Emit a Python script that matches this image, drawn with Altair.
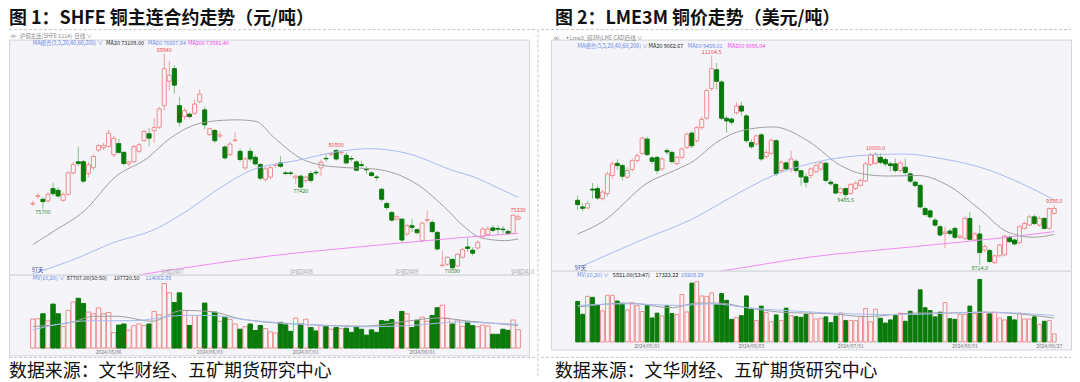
import altair as alt
import pandas as pd

FONT = "Noto Sans CJK SC"
BG = "#f4f4f9"
UP = "#ef8e8e"
UP_WICK = "#f2a0a0"
DOWN = "#0a7a0a"
DOWN_WICK = "#86c286"
GRID = "#e2e2ea"
AXIS_C = "#c4c4cc"
RED_T = "#f04848"
GREEN_T = "#2e8b2e"
BLUE_T = "#6a8ae4"
MAG_T = "#ee44ee"
MA20_C = "#a0a0a0"
MA60_C = "#a9bbf0"
MA200_C = "#f08cf0"
FRAME_C = "#c4c4c4"

# ================= 图1: SHFE 铜主连 (元/吨) =================
shfe_open = [76080, 76750, 76500, 76360, 77400, 77260, 76410, 76920, 78750, 79700,
             79700, 78700, 79200, 80700, 80900, 81020, 80300, 81250, 80500, 79520,
             79700, 80600, 81500, 82090, 82350, 82650, 84490, 86580, 87650, 84490,
             83560, 83760, 83840, 84830, 84130, 82010, 82370, 81900, 80960, 80310,
             81500, 80590, 79180, 80590, 80080, 79470, 78200, 78400, 79380, 79600,
             78750, 78750, 78330, 78470, 78110, 78700, 78800, 79180, 79990, 80330,
             80650, 80480, 80250, 79980, 79690, 79450, 79060, 78750, 78400, 77350,
             76130, 75360, 74800, 74800, 73530, 74240, 73900, 72960, 74700, 74520,
             73670, 70820, 70950, 71360, 70800, 71550, 72430, 72150, 72340, 73310,
             73500, 74050, 74000, 73950, 73750, 73580, 74800]
shfe_high = [76360, 77050, 76650, 77100, 77900, 77500, 77100, 78900, 79700, 81000,
             79850, 79700, 80300, 81200, 81300, 82430, 81900, 81640, 80600, 79800,
             81150, 81300, 82430, 82570, 83410, 84400, 88940, 88300, 87940, 85250,
             84300, 83900, 85000, 85870, 84400, 82600, 82500, 82300, 81100, 81400,
             82200, 80800, 80100, 80900, 80300, 79600, 79300, 79400, 79600, 80170,
             78900, 78900, 78600, 78600, 78500, 78900, 79000, 79900, 80300, 80500,
             80800, 80650, 80500, 80200, 79800, 79800, 79300, 78900, 78550, 77500,
             76300, 75500, 75100, 74900, 74400, 74800, 74000, 74600, 75510, 74700,
             73800, 72100, 71600, 71500, 71900, 72350, 73220, 72400, 73000, 74100,
             74200, 74300, 74300, 74200, 73900, 75200, 75230]
shfe_low = [75930, 76500, 75700, 76200, 76800, 76600, 76300, 76800, 78600, 79300,
            77900, 78400, 79000, 80550, 80700, 80900, 80100, 80400, 79400, 79300,
            79600, 80450, 81400, 81020, 81300, 82500, 84100, 85800, 85530, 82710,
            83300, 83400, 83700, 84700, 82500, 81900, 81300, 81700, 79900, 80200,
            81400, 79700, 79000, 79700, 79400, 78100, 78000, 78200, 79200, 79180,
            78550, 78500, 77800, 77420, 77900, 77900, 78600, 78500, 79700, 80150,
            79800, 80300, 79500, 79700, 78900, 79200, 78700, 78400, 78100, 76300,
            75600, 74600, 74700, 72850, 73400, 73700, 73500, 72800, 74500, 73600,
            72100, 70750, 70800, 70590, 70700, 71400, 72000, 71700, 72200, 73200,
            73400, 73700, 73500, 73600, 73450, 73500, 74700]
shfe_close = [76150, 76800, 76300, 76920, 76980, 76780, 76920, 78750, 79470, 79550,
              78050, 79450, 80150, 81080, 81100, 82140, 81700, 80500, 79550, 79690,
              81000, 81150, 82290, 81720, 82630, 84210, 87650, 87090, 86240, 83080,
              84070, 83560, 84630, 85480, 82860, 82520, 81500, 81980, 80030, 81210,
              81560, 79890, 79940, 79940, 79520, 78300, 79100, 79200, 79420, 79320,
              78700, 78700, 78470, 77540, 78390, 78110, 78750, 79660, 79950, 80380,
              79940, 80520, 79600, 79930, 78980, 79380, 79020, 78530, 78350, 76500,
              75790, 74720, 75000, 73020, 74240, 74100, 73650, 74460, 74760, 73750,
              72260, 70880, 71550, 70650, 71800, 72200, 72300, 71900, 72820, 73960,
              73960, 73850, 73950, 73900, 73580, 75140, 75000]
# 成交量 (万手)
shfe_vol = [13.9, 14, 16.4, 13, 21, 16.4, 10.3, 18, 22, 23.8,
            21.3, 17.2, 16.4, 19.2, 16.4, 17, 7.4, 11, 11.5, 8.5,
            10.7, 11.5, 10.7, 11.5, 17.5, 15.9, 30.8, 26.4, 21.8, 26.4,
            18, 10.8, 15.6, 15.6, 21.5, 17.5, 17.2, 12.8, 14.8, 13.6,
            11.5, 9, 10.2, 11.5, 8.4, 10.8, 9.3, 7.7, 7.2, 12.3,
            11.1, 8, 14.3, 11.5, 13.8, 9.8, 8.2, 10.7, 10.2, 9,
            9.8, 9.3, 9.5, 7.5, 10.2, 9, 6.2, 8.7, 7.5, 13.1,
            12.8, 13.6, 11.6, 17.5, 16.4, 9.8, 13.3, 14.8, 12.8, 15.6,
            19.3, 20.5, 14.3, 11.5, 13.4, 10.3, 12.5, 10.7, 10.2, 11,
            10.5, 6.6, 6.6, 9, 8.5, 13.4, 8.77]
shfe_ma20_i = [0, 4.3, 10.2, 16.3, 22.6, 27.2, 31.2, 35.1, 40.3, 44.2, 47.5, 53.4,
               57.3, 62, 67.2, 73.7, 77, 81.5, 85.5, 88.1, 90.7, 93.3, 96]
shfe_ma20_v = [72630, 73810, 75510, 78400, 80000, 81720, 82710, 83140, 83280, 83140, 81850, 79900,
               79400, 79200, 79100, 78330, 77480, 75790, 74100, 73300, 73050, 72970, 73109]
shfe_ma60_i = [0, 7.6, 16.1, 24, 30.5, 37.1, 43.6, 47.5, 51.5, 60.7, 66.6, 73.7, 83.5, 86.8, 93.3, 96]
shfe_ma60_v = [70140, 71270, 72820, 73900, 75510, 77480, 79040, 79470, 79750, 80590, 80820,
               80450, 78900, 78470, 77200, 76668]
shfe_ma200_i = [21, 23.3, 47.5, 67.2, 86.8, 96]
shfe_ma200_v = [70050, 70200, 71690, 72540, 73300, 73591]
shfe_mv10_i = [0, 8, 12, 16.8, 23.5, 29.6, 35, 41.8, 55.3, 65.5, 72.3, 80.4, 85.8, 92.6, 96]
shfe_mv10_v = [10.3, 12.5, 15.2, 15.2, 12.8, 18.0, 17.5, 13.6, 11.1, 10.5, 12.3, 14.4, 13.0, 11.5, 10.77]
shfe_mv20_i = [0, 11, 20, 29.6, 35, 41.8, 55.3, 65.5, 76, 84, 90, 96]
shfe_mv20_v = [8.7, 13.0, 13.1, 15.6, 15.6, 13.6, 11.1, 10.2, 11.0, 12.5, 12.0, 11.41]
shfe_hi_lab = [("88940", 26, 88940), ("80800", 60, 80800), ("75230", 96, 75230)]
shfe_lo_lab = [("75700", 2, 75700), ("77420", 53, 77420), ("70590", 83, 70590)]
shfe_date_i = [15, 35, 54, 77]
shfe_date_lab = ["2024/05/06", "2024/06/03", "2024/07/01", "2024/08/01"]
shfe_roll_lab = ["沪铜2407", "沪铜2408", "沪铜2409", "沪铜2410"]
shfe_roll_i = [25.3, 50.8, 71.7, 94.6]

# ================= 图2: LME3M 铜 (美元/吨) =================
lme_open = [9453, 9377, 9366, 9580, 9586, 9472, 9529, 9736, 9875, 9849,
            9717, 9806, 9906, 9989, 10152, 9937, 9943, 9812, 10020, 10000,
            9870, 9943, 10057, 10220, 10133, 10283, 10390, 10729, 10944, 10804,
            10390, 10380, 10453, 10529, 10416, 10113, 10095, 10200, 9951, 9989,
            10133, 9793, 9880, 9812, 9898, 9790, 9720, 9736, 9780, 9810,
            9876, 9660, 9634, 9540, 9586, 9530, 9586, 9623, 9672, 9861,
            9875, 9943, 9917, 9869, 9869, 9793, 9830, 9755, 9660, 9623,
            9358, 9332, 9226, 9151, 9075, 9102, 9132, 9030, 9019, 9246,
            9000, 9068, 8887, 8879, 8743, 8819, 8830, 9031, 9000, 8969,
            9132, 9170, 9264, 9170, 9246, 9132, 9302]
lme_high = [9510, 9420, 9440, 9650, 9620, 9570, 9780, 9900, 9920, 9870,
            9830, 9930, 9990, 10180, 10180, 9960, 9960, 9950, 10050, 10020,
            9960, 10060, 10230, 10240, 10300, 10410, 10730, 11104.5, 11020, 10830,
            10420, 10400, 10570, 10580, 10440, 10150, 10200, 10220, 10030, 10160,
            10150, 9910, 9900, 10020, 9920, 9800, 9760, 9830, 9880, 9900,
            9890, 9690, 9650, 9600, 9600, 9650, 9670, 9700, 9890, 9990,
            10000, 9990, 9940, 9890, 9929, 9900, 9929, 9770, 9680, 9640,
            9380, 9350, 9250, 9170, 9151, 9130, 9150, 9060, 9270, 9320,
            9090, 9170, 8950, 8900, 8830, 8960, 9060, 9050, 9020, 9170,
            9210, 9290, 9290, 9270, 9260, 9370, 9398]
lme_low = [9340, 9330, 9350, 9470, 9460, 9450, 9500, 9700, 9800, 9680,
           9700, 9780, 9880, 9970, 9960, 9870, 9750, 9790, 9970, 9870,
           9850, 9920, 10040, 10050, 10110, 10260, 10370, 10700, 10718, 10370,
           10226, 10320, 10430, 10420, 10110, 10040, 10080, 9900, 9930, 9970,
           9730, 9770, 9790, 9770, 9770, 9620, 9600, 9700, 9760, 9790,
           9660, 9620, 9520, 9520, 9485.5, 9515, 9570, 9610, 9660, 9850,
           9860, 9860, 9840, 9780, 9770, 9770, 9740, 9650, 9600, 9360,
           9270, 9240, 9150, 9040, 8906, 9050, 9010, 9010, 9000, 8990,
           8980, 8714, 8860, 8740, 8725, 8810, 8815, 8965, 8940, 8950,
           9120, 9160, 9170, 9150, 9120, 9120, 9290]
lme_close = [9404, 9362, 9416, 9570, 9479, 9547, 9755, 9869, 9850, 9728,
             9793, 9906, 9963, 10163, 9974, 9898, 9793, 9925, 10005, 9895,
             9943, 10039, 10208, 10076, 10283, 10378, 10707, 10956, 10812, 10390,
             10359, 10345, 10529, 10472, 10133, 10065, 10189, 9925, 10000, 10140,
             9755, 9887, 9812, 9925, 9793, 9720, 9660, 9812, 9850, 9880,
             9680, 9642, 9536, 9586, 9518, 9634, 9649, 9680, 9869, 9974,
             9981, 9887, 9869, 9849, 9793, 9880, 9770, 9672, 9623, 9377,
             9291, 9264, 9170, 9057, 9090, 9075, 9031, 9045, 9246, 9008,
             9068, 8856, 8924, 8754, 8819, 8943, 9046, 8981, 8955, 9151,
             9189, 9264, 9189, 9246, 9132, 9359, 9359]
lme_vol = [29450, 20100, 33100, 32400, 27200, 22600, 33900, 33900, 29700, 28000,
           23300, 28500, 26500, 22100, 26500, 17400, 20900, 18900, 26300, 20600,
           19900, 34400, 21800, 42700, 43700, 33400, 33100, 35600, 27000, 35100,
           30200, 16400, 17700, 19100, 33400, 23600, 15500, 26000, 21300, 14700,
           19600, 15500, 24500, 19100, 18400, 17900, 20100, 20600, 16700, 17200,
           18200, 14000, 18700, 21100, 15500, 15500, 15500, 18400, 24300, 14700,
           23800, 17200, 13700, 16000, 19100, 20900, 15000, 22300, 19600, 37800,
           24800, 22800, 18200, 21600, 28700, 16900, 16400, 20100, 20100, 26000,
           20600, 45400, 21600, 20400, 21600, 17400, 16000, 18400, 16000, 20900,
           16700, 16700, 18200, 12800, 15000, 15500, 5821]
lme_ma20_i = [0, 5, 14.3, 19.5, 23.5, 27.5, 33.5, 39.4, 46.7, 53, 57.3, 62.6, 68.6, 74.6,
              81.2, 86.5, 91.8, 96]
lme_ma20_v = [9068, 9207, 9660, 9793, 9906, 10095, 10254, 10291, 10120, 9850, 9755, 9730, 9736,
              9623, 9340, 9094, 9031, 9063]
lme_ma60_i = [0, 12.9, 22.9, 32.8, 39.4, 46.7, 56.7, 66, 73.2, 83.1, 86.5, 96]
lme_ma60_v = [8680, 9000, 9234, 9547, 9736, 9870, 9963, 9981, 9930, 9793, 9717, 9459]
lme_ma200_i = [26, 28.2, 46.7, 66.6, 86.5, 96]
lme_ma200_v = [8625, 8641, 8804, 8917, 9031, 9095]
lme_mv10_i = [0, 10.2, 19.1, 23.9, 28.7, 34.2, 41, 51.2, 58, 68.3, 75.1, 80.6, 88.8, 96]
lme_mv10_v = [25300, 28200, 24800, 28200, 28200, 24800, 21600, 20400, 18400, 21000, 21000,
              21600, 20400, 17323]
lme_mv20_i = [0, 10.2, 20.5, 27.3, 34.2, 44.4, 54.6, 64.9, 75.1, 81.9, 96]
lme_mv20_v = [26500, 27700, 26500, 27700, 24800, 22300, 20400, 19900, 20900, 21600, 19208]
lme_hi_lab = [("11104.5", 27, 11104.5), ("10000.0", 60, 10000), ("9398.0", 96, 9398)]
lme_lo_lab = [("9485.5", 54, 9485.5), ("8714.0", 81, 8714)]
lme_date_i = [14, 35, 55, 78, 95]
lme_date_lab = ["2024/05/01", "2024/06/03", "2024/07/01", "2024/08/01", "2024/08/27"]


def ohlc_df(o, h, l, c, v):
    d = pd.DataFrame({"i": list(range(len(o))), "open": o, "high": h,
                      "low": l, "close": c, "vol": v})
    d["dir"] = ["up" if cc >= oo else "down" for oo, cc in zip(o, c)]
    return d


def text_layers(items, xs, ys, size, align="left", baseline="middle", dy=0):
    out = []
    cols = []
    for it in items:
        if it[3] not in cols:
            cols.append(it[3])
    for col in cols:
        d = pd.DataFrame([{"t": t, "x": x, "y": y} for (t, x, y, cc) in items if cc == col])
        out.append(alt.Chart(d).mark_text(align=align, baseline=baseline, dy=dy, fontSize=size,
                                          font=FONT, color=col).encode(
            x=alt.X("x:Q", scale=xs, axis=None),
            y=alt.Y("y:Q", scale=ys, axis=None),
            text="t:N"))
    return out


def line_layer(ix, vals, color, xs, ys):
    d = pd.DataFrame({"i": ix, "v": vals})
    return alt.Chart(d).mark_line(color=color, strokeWidth=1, interpolate="monotone",
                                  clip=True).encode(
        x=alt.X("i:Q", scale=xs, axis=None),
        y=alt.Y("v:Q", scale=ys, axis=None))


def frame_rule(seg, xs, ys):
    # seg = (x_start, x_end, y_start, y_end) in the panel's own data units
    d = pd.DataFrame([{"x": seg[0], "x2": seg[1], "y": seg[2], "y2": seg[3]}])
    return alt.Chart(d).mark_rule(color=FRAME_C, strokeWidth=1, strokeDash=[3, 2]).encode(
        x=alt.X("x:Q", scale=xs, axis=None), x2="x2:Q",
        y=alt.Y("y:Q", scale=ys, axis=None), y2="y2:Q")


def panel(df, xdom, pdom, vdom, pw, ph, vh, axis_off, p_ticks, p_fmt,
          v_ticks, v_lab_expr, date_i, date_lab, date_y, mas, mvs, hi_lab, lo_lab,
          p_texts, v_texts, body_half, bar_half, title, source, src_off, title_dx,
          p_frames, v_frames):
    xs = alt.Scale(domain=xdom, nice=False, zero=False)
    ps = alt.Scale(domain=pdom, nice=False, zero=False)
    vs = alt.Scale(domain=vdom, nice=False, zero=False)
    common_axis = dict(orient="left", offset=-axis_off, ticks=False, domainColor=AXIS_C,
                       grid=True, gridColor=GRID, labelFontSize=5.5, labelColor="#555555",
                       labelPadding=2, labelFont=FONT, labelFlush=False)
    dir_dom = ["up", "down"]
    wick = alt.Chart(df).mark_rule(strokeWidth=1).encode(
        x=alt.X("i:Q", scale=xs, axis=None),
        y=alt.Y("low:Q", scale=ps, title=None,
                axis=alt.Axis(values=p_ticks, format=p_fmt, **common_axis)),
        y2="high:Q",
        color=alt.Color("dir:N", scale=alt.Scale(domain=dir_dom, range=[UP_WICK, DOWN_WICK]),
                        legend=None))
    body = alt.Chart(df).transform_calculate(
        x0=f"datum.i - {body_half}", x1=f"datum.i + {body_half}"
    ).mark_rect(strokeWidth=1).encode(
        x=alt.X("x0:Q", scale=xs, axis=None), x2="x1:Q",
        y=alt.Y("open:Q", scale=ps, axis=None), y2="close:Q",
        fill=alt.Fill("dir:N", scale=alt.Scale(domain=dir_dom, range=[BG, DOWN]), legend=None),
        stroke=alt.Stroke("dir:N", scale=alt.Scale(domain=dir_dom, range=[UP, DOWN]), legend=None))
    layers = [wick, body]
    for (ix, vals, col) in mas:
        layers.append(line_layer(ix, vals, col, xs, ps))
    layers += text_layers([(t, x, y, RED_T) for (t, x, y) in hi_lab], xs, ps, 5.5,
                          align="center", baseline="bottom", dy=-1)
    layers += text_layers([(t, x, y, GREEN_T) for (t, x, y) in lo_lab], xs, ps, 5.5,
                          align="center", baseline="top", dy=1)
    layers += text_layers(p_texts, xs, ps, 5.5)
    layers += [frame_rule(s, xs, ps) for s in p_frames]
    price = alt.layer(*layers).properties(width=pw, height=ph)

    bars = alt.Chart(df).transform_calculate(
        x0=f"datum.i - {bar_half}", x1=f"datum.i + {bar_half}", z="0"
    ).mark_rect(strokeWidth=1).encode(
        x=alt.X("x0:Q", scale=xs, axis=None),
        x2="x1:Q",
        y=alt.Y("z:Q", scale=vs, title=None,
                axis=alt.Axis(values=v_ticks, labelExpr=v_lab_expr, **common_axis)),
        y2="vol:Q",
        fill=alt.Fill("dir:N", scale=alt.Scale(domain=dir_dom, range=[BG, DOWN]), legend=None),
        stroke=alt.Stroke("dir:N", scale=alt.Scale(domain=dir_dom, range=["#f5a3a3", DOWN]),
                          legend=None))
    vlayers = [bars]
    for (ix, vals, col) in mvs:
        vlayers.append(line_layer(ix, vals, col, xs, vs))
    vlayers += text_layers(v_texts, xs, vs, 5.5)
    vlayers += text_layers([(t, x, date_y, "#777777") for t, x in zip(date_lab, date_i)],
                           xs, vs, 5, align="center")
    vlayers += [frame_rule(s, xs, vs) for s in v_frames]
    volume = alt.layer(*vlayers).properties(
        width=pw, height=vh,
        title=alt.TitleParams(text=source, orient="bottom", anchor="start", frame="group",
                              fontSize=18, font=FONT, fontWeight="normal", color="#111111",
                              offset=src_off, dx=title_dx))
    return alt.vconcat(price, volume, spacing=0, bounds="flush").properties(
        title=alt.TitleParams(text=title, anchor="start", frame="group", fontSize=18, font=FONT,
                              fontWeight="bold", color="#111111", offset=1, dx=title_dx))


shfe_df = ohlc_df(shfe_open, shfe_high, shfe_low, shfe_close, shfe_vol)
lme_df = ohlc_df(lme_open, lme_high, lme_low, lme_close, lme_vol)

left_ptexts = [
    ("∞", -4.4, 90420, "#777777"), ("沪铜主连(SHFE 2114)", -2.6, 90420, "#888888"),
    ("日线 ∨", 8.2, 90420, "#888888"),
    ("MA组合(5,5,20,40,60,200) ∨", 0.0, 89830, BLUE_T), ("MA20 73109.00", 14.5, 89830, "#222222"),
    ("MA60 76667.84", 22.8, 89830, BLUE_T), ("MA200 73591.40", 30.7, 89830, MAG_T),
    ("97天", -0.2, 70420, "#3d4c9c"),
] + [(t, x, 70250, "#aaaaaa") for t, x in zip(shfe_roll_lab, shfe_roll_i)]
left_vtexts = [
    ("MV(10,20) ∨", 0.0, 33.3, BLUE_T), ("87707.00(50:50)", 6.7, 33.3, "#222222"),
    ("107720.50", 16.0, 33.3, "#222222"), ("114062.88", 22.3, 33.3, BLUE_T),
]
right_ptexts = [
    ("∞", -4.8, 11310, "#777777"), ("▪", -2.6, 11310, "#4a78d8"),
    ("Lme3_铜3M(LME CAD)", -1.6, 11310, "#888888"), ("日线 ∨", 9.5, 11310, "#888888"),
    ("MA组合(5,5,20,40,60,200) ∨", 0.0, 11216, BLUE_T), ("MA20 9062.67", 14.3, 11216, "#222222"),
    ("MA60 9459.01", 22.2, 11216, BLUE_T), ("MA200 9095.04", 30.2, 11216, MAG_T),
    ("97天", -0.6, 8683, "#3d4c9c"),
]
right_vtexts = [
    ("MV(10,20) ∨", -0.1, 48860, BLUE_T), ("5821.00(53:47)", 7.1, 48860, "#222222"),
    ("17323.22", 15.7, 48860, "#222222"), ("19208.29", 20.8, 48860, BLUE_T),
]

# dashed frame of the two screenshots (in each panel's data units)
left_p_frames = [(-4.71, 99.92, 90980, 90980), (99.92, 99.92, 90980, 61300)]
left_v_frames = [(-4.71, 99.92, -4.44, -4.44)]
right_p_frames = [(-7.38, 99.38, 11402, 11402)]
right_v_frames = [(-7.38, 99.38, -11216, -11216)]

left = panel(shfe_df, [-4.71, 98.15], [70060, 90130], [-3.49, 35.05], 522, 236, 81, 22,
             [75000, 80000], "d", [10, 20, 30], "datum.value + '万'",
             shfe_date_i, shfe_date_lab, -1.9,
             [(shfe_ma20_i, shfe_ma20_v, MA20_C), (shfe_ma60_i, shfe_ma60_v, MA60_C),
              (shfe_ma200_i, shfe_ma200_v, MA200_C)],
             [(shfe_mv10_i, shfe_mv10_v, MA20_C), (shfe_mv20_i, shfe_mv20_v, MA60_C)],
             shfe_hi_lab, shfe_lo_lab, left_ptexts, left_vtexts, 0.4, 0.44,
             "图 1：SHFE 铜主连合约走势（元/吨）", "数据来源：文华财经、五矿期货研究中心", 5, 0,
             left_p_frames, left_v_frames)

right = panel(lme_df, [-5.37, 99.38], [8649, 11288], [-5430, 51710], 522, 232, 79, 24,
              [9000, 10000], ".1f", [20000, 40000], "format(datum.value, '.1f')",
              lme_date_i, lme_date_lab, -3000,
              [(lme_ma20_i, lme_ma20_v, MA20_C), (lme_ma60_i, lme_ma60_v, MA60_C),
               (lme_ma200_i, lme_ma200_v, MA200_C)],
              [(lme_mv10_i, lme_mv10_v, MA20_C), (lme_mv20_i, lme_mv20_v, MA60_C)],
              lme_hi_lab, lme_lo_lab, right_ptexts, right_vtexts, 0.4, 0.38,
              "图 2：LME3M 铜价走势（美元/吨）", "数据来源：文华财经、五矿期货研究中心", 5, 4,
              right_p_frames, right_v_frames)

chart = alt.hconcat(left, right, spacing=0).properties(
    padding=0
).configure(background="white", font=FONT).configure_view(fill=BG, stroke="#d4d4dc")

chart.save("out.html", embed_options={"renderer": "svg", "actions": False})
